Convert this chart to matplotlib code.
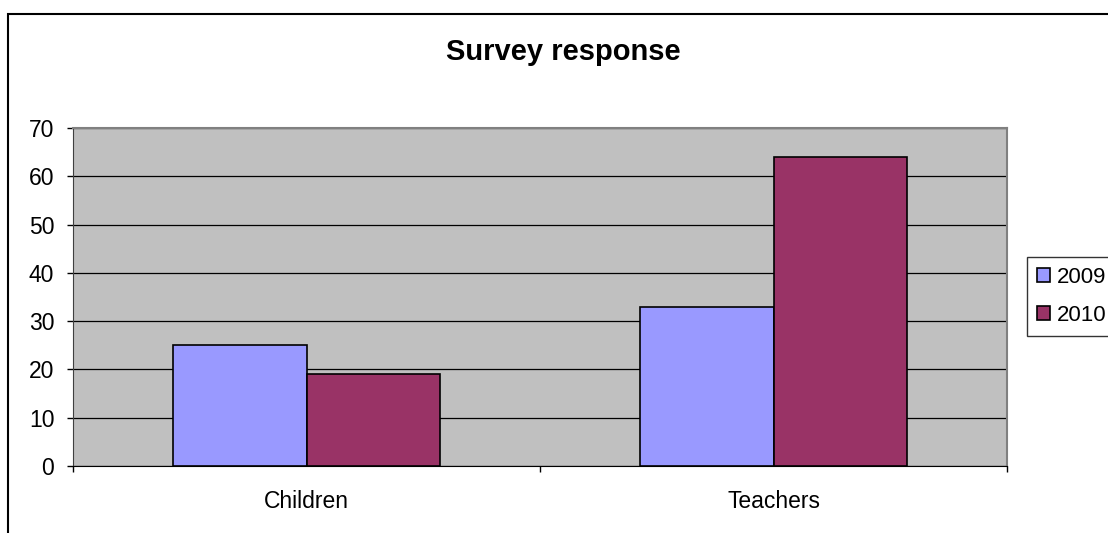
import numpy as np
import matplotlib
matplotlib.use("Agg")
import matplotlib.pyplot as plt
from matplotlib.patches import Rectangle
from matplotlib.ticker import FixedLocator

plt.rcParams['font.family'] = ['Liberation Sans', 'DejaVu Sans']

# data
categories = ['Children', 'Teachers']
series_names = ['2009', '2010']
values_2009 = [25, 33]
values_2010 = [19, 64]
colors = ['#9999FF', '#993366']

W, H = 1108, 533
fig = plt.figure(figsize=(W / 100, H / 100), dpi=100)

# outer chart border (runs off the right and bottom edge in the reference)
fig.patches.append(Rectangle((8 / W, -0.2), 1.2, 1.2 - 14 / H,
                             transform=fig.transFigure, fill=False,
                             edgecolor='black', linewidth=1.5))

ax = fig.add_axes([73 / W, (H - 466) / H, 934 / W, 338 / H])
ax.set_facecolor('#C0C0C0')

x = np.arange(len(categories))
bw = 0.285
b1 = ax.bar(x - bw / 2, values_2009, bw, color=colors[0], edgecolor='black',
            linewidth=1.2, label=series_names[0], zorder=3)
b2 = ax.bar(x + bw / 2, values_2010, bw, color=colors[1], edgecolor='black',
            linewidth=1.2, label=series_names[1], zorder=3)

ax.set_xlim(-0.5, len(categories) - 0.5)
ax.set_ylim(0, 70)
ax.set_yticks(np.arange(0, 71, 10))
ax.yaxis.grid(True, color='black', linewidth=0.9, zorder=1)
ax.set_axisbelow(True)

ax.set_xticks(x)
ax.set_xticklabels(categories)
ax.xaxis.set_minor_locator(FixedLocator(np.arange(-0.5, len(categories), 1.0)))
ax.tick_params(axis='x', which='major', length=0, pad=17, labelsize=16.5)
ax.tick_params(axis='x', which='minor', length=4.5, width=1, direction='out')
ax.tick_params(axis='y', length=4.5, width=1, direction='out', pad=9, labelsize=16.5)

for side in ['top', 'right']:
    ax.spines[side].set_color('#808080')
    ax.spines[side].set_linewidth(1.5)
ax.spines['left'].set_color('#404040')
ax.spines['bottom'].set_color('black')

fig.text(563 / W, 1 - 52 / H, 'Survey response', ha='center', va='center',
         fontsize=21, fontweight='bold')

leg = fig.legend(handles=[b1, b2], labels=series_names, loc='upper left',
                 bbox_to_anchor=(1027 / W, 1 - 257 / H), fontsize=16,
                 frameon=True, fancybox=False, edgecolor='black',
                 handlelength=0.6, handleheight=0.6, handletextpad=0.3,
                 borderpad=0.45, labelspacing=0.75, borderaxespad=0)
leg.get_frame().set_linewidth(1)

fig.savefig('out.png', dpi=100)
